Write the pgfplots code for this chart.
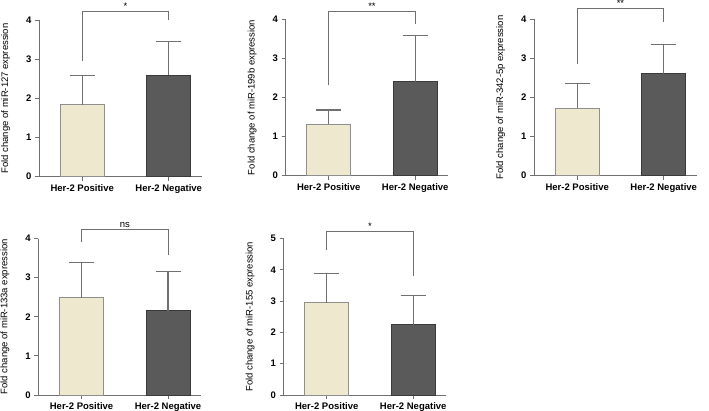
\documentclass[border=0pt]{standalone}
\usepackage{fontspec}
\setmainfont{Liberation Sans}
\usepackage{pgfplots}
\pgfplotsset{compat=1.18}
\definecolor{posc}{HTML}{EEE8CF}
\definecolor{posd}{HTML}{8F8F8F}
\definecolor{negc}{HTML}{5A5A5A}
\definecolor{negd}{HTML}{3A3A3A}
\definecolor{axc}{HTML}{707070}
\tikzset{sig/.style={font=\fontsize{9.5}{10}\selectfont, anchor=south, inner sep=1.5pt}}
\pgfplotsset{panel/.style={
  scale only axis, width=162.6pt, height=156.5pt,
  anchor=south west,
  xmin=-0.5, xmax=1.38, ymin=0, ymax=4, ytick={0,1,2,3,4},
  axis x line*=bottom, axis y line*=left,
  axis line style={axc, line width=0.9pt},
  tick style={axc, line width=0.9pt},
  tick align=outside, major tick length=4pt,
  xtick={0,1}, xticklabels={Her-2 Positive, Her-2 Negative},
  ticklabel style={font=\fontsize{9.5}{10}\selectfont\bfseries},
  /pgf/number format/assume math mode=true,
  ylabel style={font=\fontsize{9.5}{11}\selectfont, at={(axis description cs:-0.205,0.5)}, anchor=center},
  clip=false,
  ybar, bar width=44pt, bar shift=0pt,
  error bars/y dir=plus, error bars/y explicit,
  error bars/error bar style={axc, line width=1.2pt},
  error bars/error mark options={axc, line width=1.2pt, rotate=90, mark size=12.5pt},
},
posbar/.style={fill=posc, draw=posd, line width=0.8pt},
negbar/.style={fill=negc, draw=negd, line width=0.8pt},
brk/.style={sharp plot, no marks, axc, line width=0.9pt},
}
\begin{document}
\begin{tikzpicture}
\useasboundingbox (0pt,0pt) rectangle (709pt,-410pt);
% Panel 1
\begin{axis}[panel, at={(39pt,-176.7pt)}, ylabel={Fold change of miR-127 expression}]
\addplot[posbar] coordinates {(0,1.84) +- (0,0.74)};
\addplot[negbar] coordinates {(1,2.60) +- (0,0.85)};
\addplot[brk] coordinates {(0,2.97) (0,4.23) (1,4.23) (1,4.00)};
\node[sig] at (axis cs:0.5,4.23) {*};
\end{axis}
% Panel 2
\begin{axis}[panel, at={(285.5pt,-175.7pt)}, ylabel={Fold change of miR-199b expression}]
\addplot[posbar] coordinates {(0,1.32) +- (0,0.36)};
\addplot[negbar] coordinates {(1,2.40) +- (0,1.19)};
\addplot[brk] coordinates {(0,2.31) (0,4.21) (1,4.21) (1,3.89)};
\node[sig] at (axis cs:0.5,4.21) {**};
\end{axis}
% Panel 3
\begin{axis}[panel, at={(534pt,-175.7pt)}, ylabel={Fold change of miR-342-5p expression}]
\addplot[posbar] coordinates {(0,1.72) +- (0,0.64)};
\addplot[negbar] coordinates {(1,2.61) +- (0,0.75)};
\addplot[brk] coordinates {(0,2.85) (0,4.27) (1,4.27) (1,3.93)};
\node[sig] at (axis cs:0.5,4.27) {**};
\end{axis}
% Panel 4
\begin{axis}[panel, at={(38.3pt,-395pt)}, ylabel={Fold change of miR-133a expression}]
\addplot[posbar] coordinates {(0,2.49) +- (0,0.90)};
\addplot[negbar] coordinates {(1,2.16) +- (0,0.99)};
\addplot[brk] coordinates {(0,3.91) (0,4.23) (1,4.23) (1,3.59)};
\node[sig] at (axis cs:0.5,4.23) {ns};
\end{axis}
% Panel 5
\begin{axis}[panel, at={(283.5pt,-395pt)}, ymax=5, ytick={0,1,2,3,4,5}, ylabel={Fold change of miR-155 expression}]
\addplot[posbar] coordinates {(0,2.95) +- (0,0.92)};
\addplot[negbar] coordinates {(1,2.24) +- (0,0.93)};
\addplot[brk] coordinates {(0,4.63) (0,5.22) (1,5.22) (1,3.81)};
\node[sig] at (axis cs:0.5,5.22) {*};
\end{axis}
\end{tikzpicture}
\end{document}
